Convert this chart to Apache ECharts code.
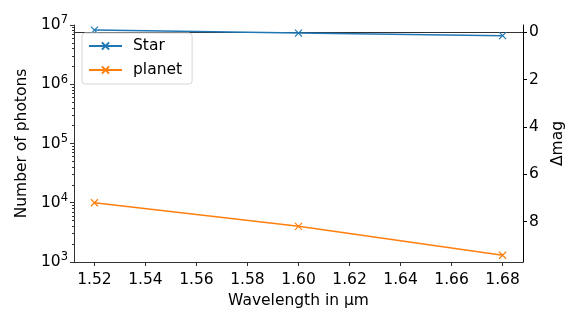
<!DOCTYPE html>
<html>
<head>
<meta charset="utf-8">
<script src="https://cdn.jsdelivr.net/npm/echarts@6/dist/echarts.min.js"></script>
<style>
  html, body { margin: 0; padding: 0; background: #fff; }
  #chart { width: 581px; height: 327px; }
</style>
</head>
<body>
<div id="chart"></div>
<script>
// data
const wavelengths = [1.52, 1.60, 1.68]
const starPhotons = [8.2e6, 7.3e6, 6.6e6]
const planetPhotons = [1.0e4, 4.0e3, 1.3e3]
const xTicks = [1.52, 1.54, 1.56, 1.58, 1.60, 1.62, 1.64, 1.66, 1.68]
const magTicks = [0, 2, 4, 6, 8]
const decades = [3, 4, 5, 6]

const font = 'DejaVu Sans'
const fs = 15.5
const spine = '#333'

const toPairs = (xs, ys) => xs.map((x, i) => [x, ys[i]])

// minor ticks of the log axis, 2..9 x 10^n, in log10 units
const minorLogTicks = []
decades.forEach(d => {
  for (let k = 2; k <= 9; k++) minorLogTicks.push(d + Math.log10(k))
})

const chart = echarts.init(document.getElementById('chart'))

chart.setOption({
  animation: false,
  grid: { left: 74, right: 58, top: 25, bottom: 65 },
  legend: {
    left: 82,
    top: 33,
    orient: 'vertical',
    itemWidth: 33,
    itemHeight: 9,
    itemGap: 8,
    padding: [5, 10, 6, 6],
    borderColor: '#d6d6d6',
    borderWidth: 1,
    borderRadius: 3,
    backgroundColor: 'rgba(255,255,255,0.8)',
    textStyle: { fontFamily: font, fontSize: fs, color: '#000', padding: [0, 0, 0, 6] },
    data: ['Star', 'planet']
  },
  xAxis: [{
    type: 'value',
    min: 1.512,
    max: 1.688,
    name: 'Wavelength in μm',
    nameLocation: 'middle',
    nameGap: 25,
    nameTextStyle: { fontFamily: font, fontSize: fs, color: '#000' },
    axisLine: { show: true, onZero: false, lineStyle: { color: spine, width: 1 } },
    axisTick: { show: true, length: 4, customValues: xTicks, lineStyle: { color: spine } },
    axisLabel: {
      customValues: xTicks,
      fontFamily: font, fontSize: fs, color: '#000', margin: 10,
      formatter: v => v.toFixed(2)
    },
    splitLine: { show: false }
  }, {
    type: 'value',
    position: 'top',
    min: 1.512,
    max: 1.688,
    axisLine: { show: true, lineStyle: { color: spine, width: 1 } },
    axisTick: { show: false },
    axisLabel: { show: false },
    splitLine: { show: false }
  }],
  yAxis: [{
    type: 'log',
    logBase: 10,
    min: 1e3,
    max: 1e7,
    name: 'Number of photons',
    nameLocation: 'middle',
    nameGap: 40,
    nameTextStyle: { fontFamily: font, fontSize: fs, color: '#000' },
    axisLine: { show: true, lineStyle: { color: spine, width: 1 } },
    axisTick: { show: true, length: 4, lineStyle: { color: spine } },
    axisLabel: {
      margin: 6,
      formatter: v => '{b|10}{s|' + Math.round(Math.log10(v)) + '}',
      rich: {
        b: { fontFamily: font, fontSize: fs, color: '#000' },
        s: { fontFamily: font, fontSize: 11.5, color: '#000', padding: [0, 0, 9, 0] }
      }
    },
    splitLine: { show: false }
  }, {
    type: 'value',
    position: 'right',
    inverse: true,
    min: -0.3,
    max: 9.7,
    name: 'Δmag',
    nameLocation: 'middle',
    nameGap: 22,
    nameRotate: 90,
    nameTextStyle: { fontFamily: font, fontSize: fs, color: '#000' },
    axisLine: { show: true, lineStyle: { color: '#000', width: 1 } },
    axisTick: { show: true, length: 4, customValues: magTicks, lineStyle: { color: '#000' } },
    axisLabel: { customValues: magTicks, fontFamily: font, fontSize: fs, color: '#000', margin: 6 },
    splitLine: { show: false }
  }, {
    // minor ticks of the log axis, drawn on a log10-unit twin
    type: 'value',
    position: 'left',
    min: 3,
    max: 7,
    axisLine: { show: false },
    axisTick: { show: true, length: 2, customValues: minorLogTicks, lineStyle: { color: spine } },
    axisLabel: { show: false },
    splitLine: { show: false }
  }],
  series: [{
    name: 'Star',
    type: 'line',
    xAxisIndex: 0,
    yAxisIndex: 0,
    data: toPairs(wavelengths, starPhotons),
    symbol: 'path://M0,0L10,10M10,0L0,10',
    symbolSize: 7,
    color: '#1f77b4',
    lineStyle: { width: 1.5, color: '#1f77b4' },
    itemStyle: { color: 'transparent', borderColor: '#1f77b4', borderWidth: 1.2 }
  }, {
    name: 'planet',
    type: 'line',
    xAxisIndex: 0,
    yAxisIndex: 0,
    data: toPairs(wavelengths, planetPhotons),
    symbol: 'path://M0,0L10,10M10,0L0,10',
    symbolSize: 7,
    color: '#ff7f0e',
    lineStyle: { width: 1.5, color: '#ff7f0e' },
    itemStyle: { color: 'transparent', borderColor: '#ff7f0e', borderWidth: 1.2 }
  }]
})
</script>
</body>
</html>
